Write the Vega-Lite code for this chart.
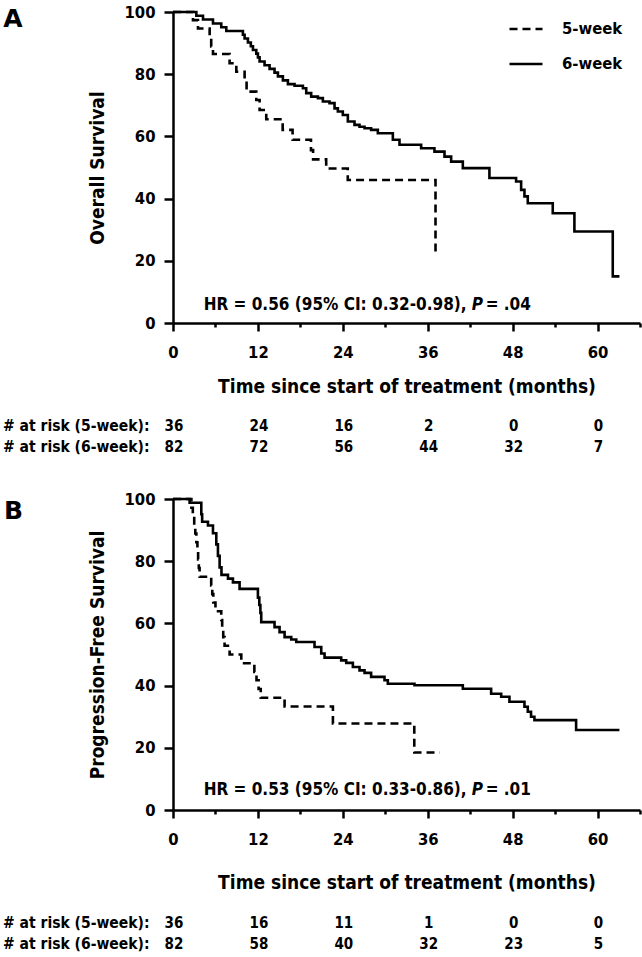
{
  "$schema": "https://vega.github.io/schema/vega-lite/v6.json",
  "background": "white",
  "padding": {"left": 2, "top": 4, "right": 2, "bottom": 2},
  "config": {
    "font": "DejaVu Sans Condensed",
    "view": {"stroke": null},
    "axis": {
      "grid": false,
      "domainColor": "black",
      "domainWidth": 2.5,
      "tickColor": "black",
      "tickWidth": 2.5,
      "labelFont": "DejaVu Sans Condensed",
      "labelFontWeight": "bold",
      "labelFontSize": 16.5,
      "labelColor": "black",
      "titleFont": "DejaVu Sans Condensed",
      "titleFontWeight": "bold",
      "titleFontSize": 19,
      "titleColor": "black"
    },
    "text": {"font": "DejaVu Sans Condensed", "fontWeight": "bold", "color": "black"}
  },
  "datasets": {
    "os": [
      {"group": "6-week", "t": 0, "s": 100},
      {"group": "6-week", "t": 3.3, "s": 98.8},
      {"group": "6-week", "t": 4.24, "s": 97.6},
      {"group": "6-week", "t": 5.65, "s": 96.3},
      {"group": "6-week", "t": 6.82, "s": 95.1},
      {"group": "6-week", "t": 7.53, "s": 93.9},
      {"group": "6-week", "t": 9.88, "s": 92.7},
      {"group": "6-week", "t": 10.12, "s": 91.5},
      {"group": "6-week", "t": 10.59, "s": 90.2},
      {"group": "6-week", "t": 11.0, "s": 89.0},
      {"group": "6-week", "t": 11.3, "s": 87.8},
      {"group": "6-week", "t": 11.77, "s": 86.6},
      {"group": "6-week", "t": 12.0, "s": 85.4},
      {"group": "6-week", "t": 12.24, "s": 84.1},
      {"group": "6-week", "t": 12.94, "s": 82.9},
      {"group": "6-week", "t": 13.65, "s": 81.7},
      {"group": "6-week", "t": 14.35, "s": 80.5},
      {"group": "6-week", "t": 14.83, "s": 79.3},
      {"group": "6-week", "t": 15.53, "s": 78.0},
      {"group": "6-week", "t": 16.24, "s": 76.8},
      {"group": "6-week", "t": 17.18, "s": 76.3},
      {"group": "6-week", "t": 18.36, "s": 75.5},
      {"group": "6-week", "t": 18.83, "s": 73.9},
      {"group": "6-week", "t": 19.53, "s": 72.8},
      {"group": "6-week", "t": 20.48, "s": 72.3},
      {"group": "6-week", "t": 21.18, "s": 71.2},
      {"group": "6-week", "t": 22.12, "s": 70.7},
      {"group": "6-week", "t": 22.83, "s": 69.0},
      {"group": "6-week", "t": 23.3, "s": 68.0},
      {"group": "6-week", "t": 24.0, "s": 66.9},
      {"group": "6-week", "t": 24.71, "s": 64.8},
      {"group": "6-week", "t": 25.65, "s": 63.7},
      {"group": "6-week", "t": 26.36, "s": 63.1},
      {"group": "6-week", "t": 27.07, "s": 62.6},
      {"group": "6-week", "t": 28.0, "s": 62.1},
      {"group": "6-week", "t": 28.95, "s": 61.0},
      {"group": "6-week", "t": 31.07, "s": 58.9},
      {"group": "6-week", "t": 32.01, "s": 57.3},
      {"group": "6-week", "t": 35.07, "s": 56.2},
      {"group": "6-week", "t": 36.95, "s": 55.1},
      {"group": "6-week", "t": 38.37, "s": 53.5},
      {"group": "6-week", "t": 39.31, "s": 51.9},
      {"group": "6-week", "t": 40.96, "s": 49.8},
      {"group": "6-week", "t": 44.72, "s": 46.6},
      {"group": "6-week", "t": 48.49, "s": 45.5},
      {"group": "6-week", "t": 49.2, "s": 42.8},
      {"group": "6-week", "t": 49.67, "s": 40.7},
      {"group": "6-week", "t": 50.14, "s": 38.5},
      {"group": "6-week", "t": 53.67, "s": 35.3},
      {"group": "6-week", "t": 56.73, "s": 29.4},
      {"group": "6-week", "t": 62.15, "s": 15.0},
      {"group": "6-week", "t": 63.09, "s": 15.0},
      {"group": "5-week", "t": 0, "s": 100},
      {"group": "5-week", "t": 2.82, "s": 97.4},
      {"group": "5-week", "t": 3.53, "s": 94.7},
      {"group": "5-week", "t": 5.18, "s": 91.5},
      {"group": "5-week", "t": 5.4, "s": 88.9},
      {"group": "5-week", "t": 5.65, "s": 86.5},
      {"group": "5-week", "t": 8.0, "s": 83.5},
      {"group": "5-week", "t": 8.95, "s": 80.8},
      {"group": "5-week", "t": 10.12, "s": 77.8},
      {"group": "5-week", "t": 10.4, "s": 74.4},
      {"group": "5-week", "t": 11.77, "s": 71.7},
      {"group": "5-week", "t": 12.24, "s": 68.5},
      {"group": "5-week", "t": 13.18, "s": 65.5},
      {"group": "5-week", "t": 15.5, "s": 62.1},
      {"group": "5-week", "t": 16.9, "s": 58.9},
      {"group": "5-week", "t": 19.5, "s": 55.6},
      {"group": "5-week", "t": 19.8, "s": 52.6},
      {"group": "5-week", "t": 21.65, "s": 49.7},
      {"group": "5-week", "t": 24.7, "s": 46.0},
      {"group": "5-week", "t": 37.1, "s": 22.4}
    ],
    "pfs": [
      {"group": "6-week", "t": 0, "s": 100},
      {"group": "6-week", "t": 2.35, "s": 98.8},
      {"group": "6-week", "t": 4.0, "s": 95.1},
      {"group": "6-week", "t": 4.12, "s": 92.7},
      {"group": "6-week", "t": 4.94, "s": 91.5},
      {"group": "6-week", "t": 5.65, "s": 89.0},
      {"group": "6-week", "t": 6.12, "s": 85.4},
      {"group": "6-week", "t": 6.35, "s": 81.7},
      {"group": "6-week", "t": 6.59, "s": 78.0},
      {"group": "6-week", "t": 6.85, "s": 75.6},
      {"group": "6-week", "t": 7.77, "s": 74.4},
      {"group": "6-week", "t": 8.47, "s": 73.2},
      {"group": "6-week", "t": 9.41, "s": 71.1},
      {"group": "6-week", "t": 12.0, "s": 68.3},
      {"group": "6-week", "t": 12.2, "s": 65.9},
      {"group": "6-week", "t": 12.35, "s": 63.4},
      {"group": "6-week", "t": 12.47, "s": 60.4},
      {"group": "6-week", "t": 14.35, "s": 58.8},
      {"group": "6-week", "t": 15.06, "s": 57.2},
      {"group": "6-week", "t": 15.77, "s": 55.6},
      {"group": "6-week", "t": 16.71, "s": 54.8},
      {"group": "6-week", "t": 17.42, "s": 54.0},
      {"group": "6-week", "t": 20.0, "s": 52.4},
      {"group": "6-week", "t": 20.95, "s": 50.3},
      {"group": "6-week", "t": 21.42, "s": 49.0},
      {"group": "6-week", "t": 23.77, "s": 48.1},
      {"group": "6-week", "t": 24.48, "s": 47.3},
      {"group": "6-week", "t": 25.42, "s": 46.0},
      {"group": "6-week", "t": 26.36, "s": 44.9},
      {"group": "6-week", "t": 27.07, "s": 44.1},
      {"group": "6-week", "t": 28.0, "s": 42.8},
      {"group": "6-week", "t": 29.89, "s": 41.7},
      {"group": "6-week", "t": 30.36, "s": 40.6},
      {"group": "6-week", "t": 34.13, "s": 40.1},
      {"group": "6-week", "t": 40.96, "s": 39.0},
      {"group": "6-week", "t": 44.96, "s": 37.4},
      {"group": "6-week", "t": 46.38, "s": 36.4},
      {"group": "6-week", "t": 47.55, "s": 34.8},
      {"group": "6-week", "t": 49.67, "s": 33.2},
      {"group": "6-week", "t": 50.14, "s": 31.6},
      {"group": "6-week", "t": 50.6, "s": 30.0},
      {"group": "6-week", "t": 51.08, "s": 28.9},
      {"group": "6-week", "t": 56.97, "s": 25.7},
      {"group": "6-week", "t": 63.09, "s": 25.7},
      {"group": "5-week", "t": 0, "s": 100},
      {"group": "5-week", "t": 2.6, "s": 97.2},
      {"group": "5-week", "t": 2.8, "s": 94.4},
      {"group": "5-week", "t": 3.0, "s": 91.7},
      {"group": "5-week", "t": 3.15, "s": 88.9},
      {"group": "5-week", "t": 3.3, "s": 86.1},
      {"group": "5-week", "t": 3.45, "s": 83.3},
      {"group": "5-week", "t": 3.55, "s": 80.6},
      {"group": "5-week", "t": 3.65, "s": 77.8},
      {"group": "5-week", "t": 3.76, "s": 75.0},
      {"group": "5-week", "t": 5.4, "s": 72.2},
      {"group": "5-week", "t": 5.55, "s": 69.4},
      {"group": "5-week", "t": 5.7, "s": 66.7},
      {"group": "5-week", "t": 6.0, "s": 63.9},
      {"group": "5-week", "t": 6.82, "s": 61.1},
      {"group": "5-week", "t": 6.95, "s": 58.3},
      {"group": "5-week", "t": 7.1, "s": 55.6},
      {"group": "5-week", "t": 7.29, "s": 52.8},
      {"group": "5-week", "t": 8.0, "s": 50.0},
      {"group": "5-week", "t": 9.65, "s": 47.2},
      {"group": "5-week", "t": 11.5, "s": 44.4},
      {"group": "5-week", "t": 11.8, "s": 41.7},
      {"group": "5-week", "t": 12.1, "s": 38.9},
      {"group": "5-week", "t": 12.4, "s": 36.1},
      {"group": "5-week", "t": 15.77, "s": 33.3},
      {"group": "5-week", "t": 22.6, "s": 27.8},
      {"group": "5-week", "t": 34.1, "s": 18.5},
      {"group": "5-week", "t": 37.7, "s": 18.5}
    ],
    "riskA": [
      {"row": "# at risk (5-week):", "t": 0, "n": "36"},
      {"row": "# at risk (5-week):", "t": 12, "n": "24"},
      {"row": "# at risk (5-week):", "t": 24, "n": "16"},
      {"row": "# at risk (5-week):", "t": 36, "n": "2"},
      {"row": "# at risk (5-week):", "t": 48, "n": "0"},
      {"row": "# at risk (5-week):", "t": 60, "n": "0"},
      {"row": "# at risk (6-week):", "t": 0, "n": "82"},
      {"row": "# at risk (6-week):", "t": 12, "n": "72"},
      {"row": "# at risk (6-week):", "t": 24, "n": "56"},
      {"row": "# at risk (6-week):", "t": 36, "n": "44"},
      {"row": "# at risk (6-week):", "t": 48, "n": "32"},
      {"row": "# at risk (6-week):", "t": 60, "n": "7"}
    ],
    "riskB": [
      {"row": "# at risk (5-week):", "t": 0, "n": "36"},
      {"row": "# at risk (5-week):", "t": 12, "n": "16"},
      {"row": "# at risk (5-week):", "t": 24, "n": "11"},
      {"row": "# at risk (5-week):", "t": 36, "n": "1"},
      {"row": "# at risk (5-week):", "t": 48, "n": "0"},
      {"row": "# at risk (5-week):", "t": 60, "n": "0"},
      {"row": "# at risk (6-week):", "t": 0, "n": "82"},
      {"row": "# at risk (6-week):", "t": 12, "n": "58"},
      {"row": "# at risk (6-week):", "t": 24, "n": "40"},
      {"row": "# at risk (6-week):", "t": 36, "n": "32"},
      {"row": "# at risk (6-week):", "t": 48, "n": "23"},
      {"row": "# at risk (6-week):", "t": 60, "n": "5"}
    ]
  },
  "spacing": 34,
  "vconcat": [
    {
      "spacing": 18,
      "vconcat": [
        {
          "width": 467,
          "height": 311,
          "title": {"text": "A", "orient": "left", "anchor": "end", "angle": 0, "align": "right", "baseline": "top", "fontSize": 25, "fontWeight": "bold", "font": "DejaVu Sans", "color": "black", "offset": 46, "dy": 3},
          "layer": [
            {
              "data": {"name": "os"},
              "mark": {"type": "line", "interpolate": "step-after", "color": "black", "strokeWidth": 2.6},
              "encoding": {
                "x": {"field": "t", "type": "quantitative", "scale": {"domain": [0, 66], "nice": false},
                  "axis": {"title": "Time since start of treatment (months)", "values": [0,3,6,9,12,15,18,21,24,27,30,33,36,39,42,45,48,51,54,57,60,63,66],
                    "labelExpr": "datum.value % 12 === 0 ? datum.label : ''",
                    "tickSize": {"condition": {"test": "datum.value % 12 === 0", "value": 8}, "value": 4},
                    "labelPadding": 13, "titlePadding": 17, "labelFlush": false}},
                "y": {"field": "s", "type": "quantitative", "scale": {"domain": [0, 100], "nice": false},
                  "axis": {"title": "Overall Survival", "values": [0,10,20,30,40,50,60,70,80,90,100],
                    "labelExpr": "datum.value % 20 === 0 ? datum.label : ''",
                    "tickSize": {"condition": {"test": "datum.value % 20 === 0", "value": 9}, "value": 4},
                    "labelPadding": 9, "titlePadding": 17}},
                "strokeDash": {"field": "group", "type": "nominal",
                  "scale": {"domain": ["5-week", "6-week"], "range": [[8, 5], [1, 0]]},
                  "legend": {"title": null, "orient": "none", "legendX": 335, "legendY": -1, "symbolType": "stroke", "symbolSize": 1089, "symbolStrokeWidth": 2.6, "symbolStrokeColor": "black", "labelFont": "DejaVu Sans Condensed", "labelFontWeight": "bold", "labelFontSize": 16.5, "labelColor": "black", "labelOffset": 18, "rowPadding": 8, "padding": 0}},
                "order": {"field": "t", "type": "quantitative"}
              }
            },
            {
              "data": {"values": [{"label": "HR = 0.56 (95% CI: 0.32-0.98),"}]},
              "mark": {"type": "text", "align": "right", "baseline": "middle", "fontSize": 17},
              "encoding": {"x": {"datum": 41.5, "type": "quantitative"}, "y": {"datum": 5.8, "type": "quantitative"}, "text": {"field": "label"}}
            },
            {
              "data": {"values": [{"label": "P"}]},
              "mark": {"type": "text", "align": "left", "baseline": "middle", "fontSize": 17, "fontStyle": "italic", "dx": 5},
              "encoding": {"x": {"datum": 41.5, "type": "quantitative"}, "y": {"datum": 5.8, "type": "quantitative"}, "text": {"field": "label"}}
            },
            {
              "data": {"values": [{"label": "= .04"}]},
              "mark": {"type": "text", "align": "left", "baseline": "middle", "fontSize": 17, "dx": 19},
              "encoding": {"x": {"datum": 41.5, "type": "quantitative"}, "y": {"datum": 5.8, "type": "quantitative"}, "text": {"field": "label"}}
            }
          ]
        },
        {
          "width": 467,
          "height": 42,
          "data": {"name": "riskA"},
          "mark": {"type": "text", "fontSize": 15, "dx": 1},
          "encoding": {
            "x": {"field": "t", "type": "quantitative", "scale": {"domain": [0, 66], "nice": false}, "axis": null},
            "y": {"field": "row", "type": "nominal", "sort": ["# at risk (5-week):", "# at risk (6-week):"],
              "axis": {"title": null, "domain": false, "ticks": false, "labelPadding": 24, "labelFontSize": 15.5, "labelAlign": "right"}},
            "text": {"field": "n"}
          }
        }
      ]
    },
    {
      "spacing": 19,
      "vconcat": [
        {
          "width": 467,
          "height": 311,
          "title": {"text": "B", "orient": "left", "anchor": "end", "angle": 0, "align": "right", "baseline": "top", "fontSize": 25, "fontWeight": "bold", "font": "DejaVu Sans", "color": "black", "offset": 46, "dy": 8},
          "layer": [
            {
              "data": {"name": "pfs"},
              "mark": {"type": "line", "interpolate": "step-after", "color": "black", "strokeWidth": 2.6},
              "encoding": {
                "x": {"field": "t", "type": "quantitative", "scale": {"domain": [0, 66], "nice": false},
                  "axis": {"title": "Time since start of treatment (months)", "values": [0,3,6,9,12,15,18,21,24,27,30,33,36,39,42,45,48,51,54,57,60,63,66],
                    "labelExpr": "datum.value % 12 === 0 ? datum.label : ''",
                    "tickSize": {"condition": {"test": "datum.value % 12 === 0", "value": 8}, "value": 4},
                    "labelPadding": 13, "titlePadding": 26, "labelFlush": false}},
                "y": {"field": "s", "type": "quantitative", "scale": {"domain": [0, 100], "nice": false},
                  "axis": {"title": "Progression-Free Survival", "values": [0,10,20,30,40,50,60,70,80,90,100],
                    "labelExpr": "datum.value % 20 === 0 ? datum.label : ''",
                    "tickSize": {"condition": {"test": "datum.value % 20 === 0", "value": 9}, "value": 4},
                    "labelPadding": 9, "titlePadding": 17}},
                "strokeDash": {"field": "group", "type": "nominal",
                  "scale": {"domain": ["5-week", "6-week"], "range": [[8, 5], [1, 0]]},
                  "legend": {"title": null, "orient": "none", "legendX": 336, "legendY": -3, "symbolType": "stroke", "symbolSize": 1089, "symbolStrokeWidth": 2.6, "symbolStrokeColor": "black", "labelFont": "DejaVu Sans Condensed", "labelFontWeight": "bold", "labelFontSize": 16.5, "labelColor": "black", "labelOffset": 18, "rowPadding": 8, "padding": 0}},
                "order": {"field": "t", "type": "quantitative"}
              }
            },
            {
              "data": {"values": [{"label": "HR = 0.53 (95% CI: 0.33-0.86),"}]},
              "mark": {"type": "text", "align": "right", "baseline": "middle", "fontSize": 17},
              "encoding": {"x": {"datum": 41.5, "type": "quantitative"}, "y": {"datum": 6.4, "type": "quantitative"}, "text": {"field": "label"}}
            },
            {
              "data": {"values": [{"label": "P"}]},
              "mark": {"type": "text", "align": "left", "baseline": "middle", "fontSize": 17, "fontStyle": "italic", "dx": 5},
              "encoding": {"x": {"datum": 41.5, "type": "quantitative"}, "y": {"datum": 6.4, "type": "quantitative"}, "text": {"field": "label"}}
            },
            {
              "data": {"values": [{"label": "= .01"}]},
              "mark": {"type": "text", "align": "left", "baseline": "middle", "fontSize": 17, "dx": 19},
              "encoding": {"x": {"datum": 41.5, "type": "quantitative"}, "y": {"datum": 6.4, "type": "quantitative"}, "text": {"field": "label"}}
            }
          ]
        },
        {
          "width": 467,
          "height": 42,
          "data": {"name": "riskB"},
          "mark": {"type": "text", "fontSize": 15, "dx": 1},
          "encoding": {
            "x": {"field": "t", "type": "quantitative", "scale": {"domain": [0, 66], "nice": false}, "axis": null},
            "y": {"field": "row", "type": "nominal", "sort": ["# at risk (5-week):", "# at risk (6-week):"],
              "axis": {"title": null, "domain": false, "ticks": false, "labelPadding": 24, "labelFontSize": 15.5, "labelAlign": "right"}},
            "text": {"field": "n"}
          }
        }
      ]
    }
  ]
}
